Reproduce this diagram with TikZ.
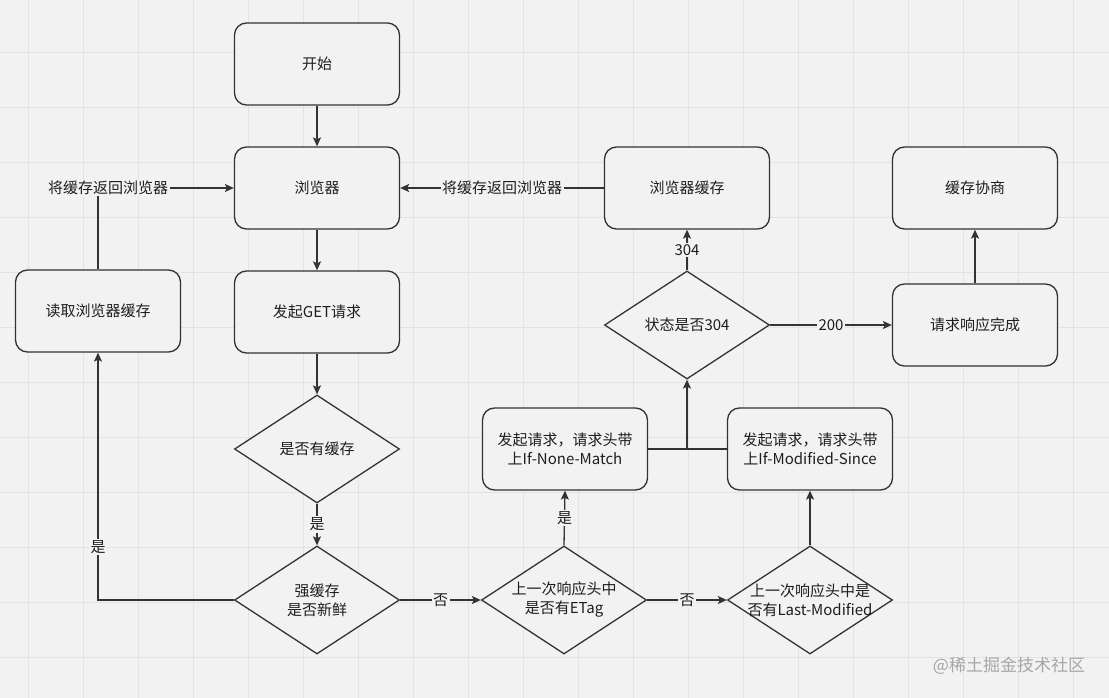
\documentclass[tikz,border=0pt]{standalone}
\usepackage{fontspec}
\setmainfont{Noto Sans CJK SC}
\usetikzlibrary{shapes.geometric,arrows.meta}
\definecolor{bg}{HTML}{F2F2F2}
\definecolor{gridc}{HTML}{E3E3E3}
\definecolor{ln}{HTML}{333333}
\definecolor{tx}{HTML}{1E1E1E}
\begin{document}
\begin{tikzpicture}[x=1pt,y=-1pt,
 box/.style={draw=ln, line width=1.3pt, rounded corners=12pt, fill=bg, minimum width=165pt, minimum height=82pt, inner sep=0pt, align=center, font=\fontsize{15}{19}\selectfont, text=tx},
 dia/.style={draw=ln, line width=1.3pt, diamond, aspect=1.53, fill=bg, minimum width=165pt, minimum height=108pt, inner sep=0pt, align=center, font=\fontsize{15}{19}\selectfont, text=tx},
 conn/.style={draw=ln, line width=1.3pt, -{Stealth[length=9pt,width=8pt,inset=2pt]}},
 plain/.style={draw=ln, line width=1.3pt},
 lbl/.style={fill=bg, inner sep=1.5pt, font=\fontsize{15}{19}\selectfont, text=tx},
]
\useasboundingbox (0,0) rectangle (1109,698);
\fill[bg] (0,0) rectangle (1109,698);
\foreach \x in {28,83,...,1100} \draw[gridc, line width=0.8pt] (\x,0) -- (\x,698);
\foreach \y in {52,107,...,698} \draw[gridc, line width=0.8pt] (0,\y) -- (1109,\y);

\node[box] (start) at (317,64) {开始};
\node[box] (browser) at (317,188) {浏览器};
\node[box] (get) at (317,312) {发起GET请求};
\node[box] (read) at (98,311) {读取浏览器缓存};
\node[box] (bcache) at (687,188) {浏览器缓存};
\node[box] (nego) at (975,188) {缓存协商};
\node[box] (done) at (975,325) {请求响应完成};
\node[dia] (st304) at (687,325) {状态是否304};
\node[dia] (hascache) at (317,449) {是否有缓存};
\node[dia] (fresh) at (317,600) {强缓存\\是否新鲜};
\node[dia] (etag) at (564,600) {上一次响应头中\\是否有ETag};
\node[box] (inm) at (565,449) {发起请求，请求头带\\上If-None-Match};
\node[box] (ims) at (810,449) {发起请求，请求头带\\上If-Modified-Since};
\node[dia] (lm) at (810,600) {\makebox[90pt][c]{上一次响应头中是}\\\makebox[90pt][c]{否有Last-Modified}};

\draw[conn] (start) -- (browser);
\draw[conn] (browser) -- (get);
\draw[conn] (get) -- (hascache);
\draw[conn] (hascache) -- node[lbl]{是} (fresh);
\draw[conn] (fresh.west) -| node[lbl, pos=0.607]{是} (read.south);
\draw[conn] (read.north) |- node[lbl, pos=0.5, xshift=10pt]{将缓存返回浏览器} (browser.west);
\draw[conn] (bcache) -- node[lbl]{将缓存返回浏览器} (browser);
\draw[conn] (st304.north) -- node[lbl]{304} (bcache.south);
\draw[conn] (st304.east) -- node[lbl]{200} (done.west);
\draw[conn] (done) -- (nego);
\draw[conn] (fresh.east) -- node[lbl]{否} (etag.west);
\draw[conn] (etag.north) -- node[lbl]{是} (inm.south);
\draw[conn] (etag.east) -- node[lbl]{否} (lm.west);
\draw[conn] (lm.north) -- (ims.south);
\draw[plain] (inm.east) -- (ims.west);
\coordinate (j) at (687,449);
\draw[conn] (j) -- (st304.south);

\node[text=gray!70, font=\fontsize{17}{20}\selectfont] (wm) at (1009,666) {@稀土掘金技术社区};
\end{tikzpicture}
\end{document}
